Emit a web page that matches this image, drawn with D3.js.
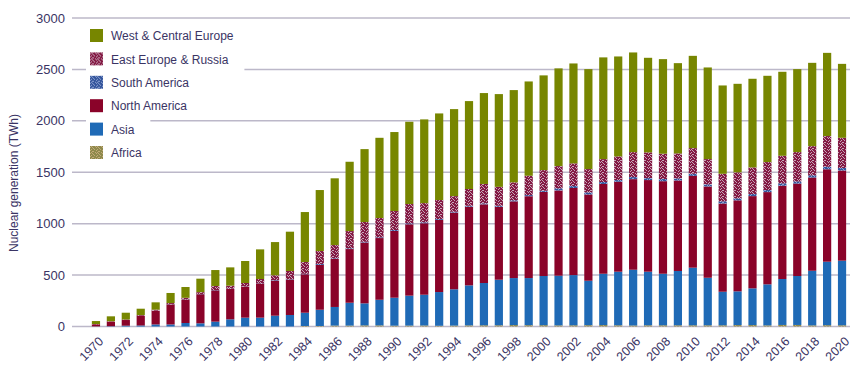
<!DOCTYPE html>
<meta charset="UTF-8">
<head>
<script src="https://d3js.org/d3.v7.min.js"></script>
</head>
<style>
body { margin: 0; background: #fff; }
text { font-family: "Liberation Sans", Arial, sans-serif; fill: #3a3464; }
.grid line { stroke: #bcb8c9; stroke-width: 1.5px; }
</style>
<body>
<div id="chart"></div>
<script>

// years 1970..2020
var years = d3.range(1970, 2021);

// TWh by region
var africa = [0,0,0,0,0,0,0,0,0,0, 0,0,0,0,5,5,9,9,11,11, 8,9,10,7,9,11,12,12,14,13,
  13,11,12,13,14,12,10,12,12,12, 12,12,12,14,14,11,15,15,11,13, 12];
var asia = [1,3,8,10,20,20,34,31,47,70, 86,86,105,112,129,158,181,222,214,249, 272,291,299,328,353,389,411,443,457,458,
  478,483,488,432,499,521,542,521,501,528, 560,462,326,328,357,399,447,476,531,617, 628];
var northAmerica = [20,44,55,94,133,194,228,283,305,295, 302,328,342,343,374,436,467,522,592,600, 649,694,695,702,746,765,765,709,746,796,
  818,829,847,839,873,875,881,891,900,880, 893,888,858,885,897,897,907,899,907,899, 877];
var southAmerica = [0,0,0,0,1,2,2,2,3,3, 2,3,5,4,5,9,6,7,7,7, 9,9,9,8,8,9,9,10,10,11,
  11,20,19,20,19,16,20,19,21,20, 20,20,21,19,20,20,23,21,21,24, 24];
var eastEurope = [3,4,5,7,10,12,15,18,39,29, 33,45,46,81,114,126,129,168,192,188, 185,188,187,185,152,163,189,184,175,188,
  201,217,220,227,223,230,243,250,246,243, 250,246,268,253,259,272,268,285,284,299, 294];
var westEurope = [29,48,66,62,71,98,105,131,155,178, 214,288,323,382,486,593,649,674,709,780, 768,800,814,842,846,855,884,902,897,917,
  921,950,972,972,989,972,969,920,920,878, 897,891,859,861,862,839,817,807,810,809, 719];

var regions = ["Africa", "Asia", "North America", "South America", "East Europe & Russia", "West & Central Europe"];
var legendOrder = ["West & Central Europe", "East Europe & Russia", "South America", "North America", "Asia", "Africa"];
var yTicks = [0, 500, 1000, 1500, 2000, 2500, 3000];
var xTicks = years.filter(function(y) { return (y - 1970) % 2 === 0; });

var table = years.map(function(y, i) {
  return {
    year: y,
    "Africa": africa[i],
    "Asia": asia[i],
    "North America": northAmerica[i],
    "South America": southAmerica[i],
    "East Europe & Russia": eastEurope[i],
    "West & Central Europe": westEurope[i]
  };
});

var width = 856, height = 376;

var svg = d3.select("#chart").append("svg")
    .attr("width", width)
    .attr("height", height);

// mottled patterns for the speckled regions
var defs = svg.append("defs");
var dots = [[0,0],[2,0],[3,1],[1,2],[4,2],[0,3],[2,4],[3,4],[5,5],[1,5]];
function speckle(id, base, dot) {
  var p = defs.append("pattern")
      .attr("id", id)
      .attr("patternUnits", "userSpaceOnUse")
      .attr("width", 6).attr("height", 6);
  p.append("rect").attr("width", 6).attr("height", 6).attr("fill", base);
  dots.forEach(function(d) {
    p.append("rect").attr("x", d[0]).attr("y", d[1])
      .attr("width", 1).attr("height", 1).attr("fill", dot);
  });
}
speckle("pEE", "#841a44", "#c8a6b8");
speckle("pSA", "#34559c", "#8da3d2");
speckle("pAF", "#8e8a4c", "#c4a878");

var fills = {
  "Africa": "url(#pAF)",
  "Asia": "#1f6ab6",
  "North America": "#8a0329",
  "South America": "url(#pSA)",
  "East Europe & Russia": "url(#pEE)",
  "West & Central Europe": "#778600"
};

var x = d3.scaleBand()
    .domain(years)
    .range([84.4, 853.6])
    .paddingInner(0.45)
    .paddingOuter(0.5);

var y = d3.scaleLinear()
    .domain([0, 3000])
    .range([326.5, 18]);

// gridlines
var grid = svg.append("g").attr("class", "grid");
grid.selectAll("line")
    .data(yTicks)
  .enter().append("line")
    .attr("x1", 72).attr("x2", 850)
    .attr("y1", function(d) { return y(d); })
    .attr("y2", function(d) { return y(d); });

// y axis labels
svg.append("g").selectAll("text")
    .data(yTicks)
  .enter().append("text")
    .attr("x", 65)
    .attr("y", function(d) { return y(d); })
    .attr("dy", "0.35em")
    .attr("text-anchor", "end")
    .style("font-size", "13px")
    .text(function(d) { return d; });

svg.append("text")
    .attr("transform", "translate(18,183) rotate(-90)")
    .attr("text-anchor", "middle")
    .style("font-size", "12px")
    .text("Nuclear generation (TWh)");

// x labels
svg.append("g").selectAll("text")
    .data(xTicks)
  .enter().append("text")
    .attr("transform", function(d) {
      return "translate(" + (x(d) + x.bandwidth() / 2 + 5) + ",339) rotate(-45)";
    })
    .attr("text-anchor", "end")
    .attr("dy", "0.35em")
    .style("font-size", "12.5px")
    .text(function(d) { return d; });

// stacked bars
var series = d3.stack().keys(regions)(table);

svg.append("g").selectAll("g")
    .data(series)
  .enter().append("g")
    .attr("fill", function(d) { return fills[d.key]; })
  .selectAll("rect")
    .data(function(d) { return d; })
  .enter().append("rect")
    .attr("x", function(d) { return x(d.data.year); })
    .attr("width", x.bandwidth())
    .attr("y", function(d) { return y(d[1]); })
    .attr("height", function(d) { return Math.max(0, y(d[0]) - y(d[1])); });

// legend, with white boxes hiding the gridlines
var legend = svg.append("g").selectAll("g")
    .data(legendOrder)
  .enter().append("g")
    .attr("transform", function(d, i) { return "translate(90," + (36 + i * 23.4) + ")"; });

legend.append("rect")
    .attr("class", "bg")
    .attr("x", -4).attr("y", -12)
    .attr("height", 24)
    .attr("fill", "#fff");

legend.append("rect")
    .attr("x", 0).attr("y", -7)
    .attr("width", 13).attr("height", 13)
    .attr("fill", function(d) { return fills[d]; });

legend.append("text")
    .attr("x", 21)
    .attr("dy", "0.35em")
    .style("font-size", "12px")
    .text(function(d) { return d; });

legend.each(function() {
  var g = d3.select(this);
  var w = g.select("text").node().getComputedTextLength();
  g.select("rect.bg").attr("width", w + 21 + 4 + 16);
});

</script>
</body>
